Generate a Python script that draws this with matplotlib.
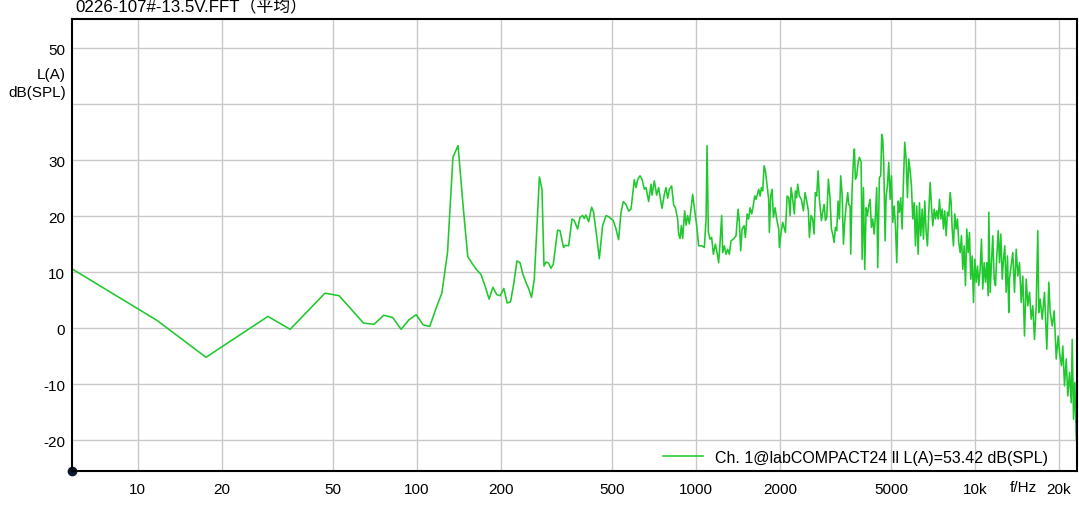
import matplotlib
matplotlib.use("Agg")
import matplotlib.pyplot as plt

plt.rcParams['font.family'] = ['Liberation Sans', 'Noto Sans CJK SC', 'DejaVu Sans']

title = "0226-107#-13.5V.FFT（平均）"
legend_label = "Ch. 1@labCOMPACT24 ll L(A)=53.42 dB(SPL)"

# frequency (Hz) and level (dB SPL, A-weighted)
freq = [
    5.86, 11.72, 17.58, 29.3, 35.2, 46.9, 52.7, 64.5, 70.3, 76.2,
    82.0, 87.9, 93.8, 99.6, 105.5, 111.3, 117.2, 123.0, 128.9, 134.8,
    140.6, 146.5, 152.3, 158.2, 164.1, 169.9, 175.8, 181.6, 187.5, 193.4,
    199.2, 205.1, 210.9, 216.8, 222.7, 228.5, 234.4, 240.2, 246.1, 252.0,
    257.8, 263.7, 269.5, 275, 281, 285.7, 290.4, 296.7, 302.6, 308.4,
    319.6, 326, 335.8, 340.6, 350, 360, 366.8, 377, 384.5, 392.9,
    398.4, 404, 412.8, 423.2, 430.2, 441, 450.9, 463.3, 476.6, 486.9,
    506.2, 517.6, 528.7, 539.3, 549.7, 562.1, 574.3, 585.7, 601.9, 610.5,
    618.6, 630.9, 641.5, 653.7, 663, 677.3, 690.8, 696.6, 709.9, 723.6,
    735.5, 756.5, 771, 781.9, 792.3, 803.5, 818.9, 832.6, 844.3, 860.5,
    867.6, 877.7, 887.1, 896.7, 911.6, 922.3, 934.5, 947.7, 961.1, 973.9,
    987.6, 1006.6, 1023.3, 1052, 1072.5, 1087.8, 1096.7, 1108.6, 1124.3, 1139.3,
    1155.4, 1174.6, 1191.1, 1207, 1221, 1237.3, 1247.5, 1265, 1283, 1299.7,
    1318, 1336.6, 1362.3, 1393, 1416.7, 1432, 1447.5, 1464.4, 1488.7, 1504.7,
    1526, 1546, 1564, 1585, 1607, 1624.5, 1643.5, 1661, 1679, 1699,
    1717, 1735.6, 1756, 1775, 1800, 1823, 1834, 1854, 1875.4, 1895.6,
    1922.4, 1948, 1980.5, 1992, 2020, 2047, 2093, 2122.7, 2150.5, 2175.5,
    2193.5, 2222.7, 2254, 2273, 2297.5, 2316.3, 2349, 2388, 2428, 2462,
    2495, 2530, 2551, 2587, 2621, 2652, 2680.6, 2709.7, 2741, 2771,
    2817, 2847.5, 2881, 2911.8, 2943.4, 2984, 3026.5, 3059, 3092, 3128,
    3162, 3196, 3233, 3268, 3303, 3342, 3378, 3414, 3454, 3500,
    3528.5, 3569.6, 3587, 3629, 3668, 3698, 3729, 3770, 3813, 3855,
    3909, 3942, 3984.5, 4027, 4074, 4118, 4162, 4210, 4255.5, 4301.5,
    4352, 4398.6, 4446, 4483, 4546, 4595, 4633, 4671.5, 4710.6, 4765,
    4804.6, 4856.5, 4909.5, 4966.6, 5020, 5074, 5133.5, 5188.9, 5245, 5306,
    5362, 5420, 5483, 5542, 5601.7, 5667, 5728, 5790, 5857.8, 5920.7,
    5984.7, 6054.6, 6120, 6186, 6258, 6325, 6393, 6468, 6537.5, 6607.7,
    6685, 6757, 6829, 6909, 6983, 7058.6, 7141, 7218, 7296, 7381,
    7460, 7540.6, 7628.6, 7710.7, 7793.5, 7884.5, 7969.5, 8054, 8148, 8215,
    8284, 8373, 8463, 8562, 8654, 8747, 8849, 8944, 9041, 9146,
    9245, 9345, 9453.5, 9555, 9658, 9771, 9876, 9982, 10099, 10208,
    10317, 10437, 10549, 10663, 10788, 10904, 11022, 11150, 11205, 11335,
    11457, 11581, 11716, 11842, 11971, 12110, 12240, 12372, 12517, 12651,
    12787, 12936, 13076, 13216, 13293, 13660, 13853, 14049, 14235, 14436,
    14640, 14834, 15044, 15257, 15460, 15678, 15899, 16111, 16338, 16570,
    16790, 16929, 17126, 17412, 17744, 18086, 18385, 18599, 18910, 19224,
    19544, 19868, 20083, 20416, 20637, 20929, 21226, 21507, 21810, 22118,
    22303, 22543, 22785, 23051, 23100,
]
level = [
    10.5, 1.4, -5.2, 2.1, -0.2, 6.25, 5.8, 0.9, 0.7, 2.3,
    1.9, -0.2, 1.5, 2.4, 0.6, 0.3, 3.5, 6.25, 13.5, 30.5,
    32.6, 22.0, 12.8, 11.5, 10.4, 9.6, 7.5, 5.2, 7.3, 6.0,
    5.8, 7.1, 4.5, 4.7, 8.0, 12.0, 11.7, 9.6, 8.2, 7.0,
    5.5, 8.75, 18.0, 27.0, 24.8, 11.1, 11.8, 11.6, 10.7, 11.4,
    17.5, 17.4, 14.4, 14.8, 14.7, 19.5, 19.2, 17.7, 19.8, 20.1,
    19.6, 20.2, 19.0, 21.6, 20.7, 16.5, 12.4, 18.3, 20.1, 19.9,
    19.2, 17.7, 15.8, 20.7, 22.6, 22.1, 20.9, 21.25, 26.5, 25.1,
    26.5, 27.2, 26.6, 24.8, 25.1, 22.6, 25.7, 23.75, 26.3, 23.75,
    25.1, 21.4, 23.9, 25.1, 23.2, 24.8, 25.4, 22.0, 21.5, 19.5,
    16.8, 16.0, 18.3, 16.0, 20.95, 18.4, 20.1, 18.6, 21.25, 23.9,
    21.5, 18.4, 14.7, 14.7, 14.4, 19.5, 32.6, 17.1, 15.9, 16.2,
    13.2, 15.0, 13.5, 11.7, 15.3, 20.1, 13.5, 14.7, 13.2, 14.1,
    13.2, 15.6, 15.9, 16.5, 21.25, 18.9, 13.8, 17.7, 18.3, 16.2,
    20.4, 19.5, 21.5, 20.4, 22.0, 23.6, 23.0, 23.9, 24.8, 23.6,
    25.1, 24.5, 29.0, 28.1, 25.4, 23.0, 17.1, 23.6, 24.8, 19.8,
    21.5, 19.5, 17.7, 14.4, 17.1, 18.9, 17.1, 23.6, 23.3, 20.1,
    25.1, 23.0, 20.4, 24.5, 23.3, 25.7, 23.6, 23.0, 20.95, 24.2,
    22.7, 20.95, 16.2, 20.1, 19.5, 16.8, 24.2, 23.6, 28.1, 23.0,
    19.2, 20.7, 22.1, 19.2, 19.8, 26.6, 23.0, 17.7, 16.8, 15.3,
    18.0, 17.4, 22.7, 19.5, 27.2, 23.9, 15.0, 18.9, 21.8, 24.2,
    22.1, 21.8, 13.2, 24.8, 29.9, 32.0, 26.6, 27.2, 29.6, 30.5,
    29.6, 12.3, 25.1, 10.5, 21.5, 20.1, 21.8, 23.0, 18.0, 19.5,
    16.8, 20.1, 25.1, 10.8, 26.9, 27.2, 34.6, 33.75, 29.6, 15.6,
    23.6, 25.4, 29.6, 23.0, 27.2, 18.9, 21.8, 18.3, 11.7, 22.7,
    20.7, 23.3, 17.7, 26.0, 33.2, 30.2, 23.3, 30.2, 28.1, 25.4,
    19.5, 22.4, 14.7, 21.8, 13.2, 22.4, 16.5, 21.25, 15.9, 22.7,
    17.1, 14.7, 20.7, 26.0, 21.8, 18.3, 21.25, 19.5, 20.95, 19.5,
    23.0, 19.5, 21.25, 17.7, 20.95, 16.5, 20.7, 20.1, 24.2, 22.4,
    17.7, 14.7, 20.4, 17.7, 19.5, 15.3, 13.5, 16.5, 10.5, 14.7,
    7.6, 17.7, 13.5, 17.1, 8.75, 12.9, 4.6, 12.3, 8.2, 11.1,
    7.6, 10.5, 15.9, 7.0, 11.7, 8.2, 11.7, 5.8, 20.7, 6.4,
    11.7, 16.5, 8.75, 7.6, 12.9, 17.4, 11.7, 16.8, 8.75, 12.3,
    14.7, 6.4, 12.9, 2.8, 8.75, 13.5, 6.4, 14.1, 9.3, 11.7,
    4.6, 9.3, -1.4, 8.75, 4.0, 6.4, 1.6, 4.0, -2.0, 4.0,
    17.4, 2.8, 5.2, 1.6, 6.4, -3.75, 8.2, 2.8, 0.4, 3.1,
    -5.5, -1.4, -4.3, -6.7, -3.2, -10.3, -5.5, -12.1, -7.9, -13.3,
    -2.0, -16.25, -9.7, -19.2, -20.0,
]

xticks = [10, 20, 50, 100, 200, 500, 1000, 2000, 5000, 10000, 20000]
xtick_labels = ["10", "20", "50", "100", "200", "500", "1000", "2000", "5000", "10k", "20k"]
yticks = [-20, -10, 0, 10, 20, 30, 40, 50]
ytick_labels = ["-20", "-10", "0", "10", "20", "30", "", "50"]

fig = plt.figure(figsize=(10.79, 5.06), dpi=100)
ax = fig.add_axes([72 / 1079, 1 - 472 / 506, 1005 / 1079, 452 / 506])

ax.plot(freq, level, color='#1fc82d', lw=1.15, label=legend_label)

ax.set_xscale('log')
ax.set_xlim(5.82, 23200)
ax.set_ylim(-25.5, 55.2)
ax.set_xticks(xticks)
ax.set_xticklabels(xtick_labels)
ax.set_yticks(yticks)
ax.set_yticklabels(ytick_labels)
ax.minorticks_off()
ax.tick_params(axis='both', length=0, labelsize=11)
ax.tick_params(axis='x', pad=8)
ax.tick_params(axis='y', pad=5)
ax.grid(True, color='#c8c8c8', lw=1.0)
ax.set_axisbelow(True)
for s in ax.spines.values():
    s.set_color('black')
    s.set_linewidth(1.5)

# marker at the axis origin
ax.plot([0], [0], 'o', color='#0d1a2e', ms=6, transform=ax.transAxes, clip_on=False)

fig.text(75 / 1079, 1 - 7 / 506, title, fontsize=12.2, ha='left', va='center')
fig.text(66 / 1079, 1 - 75 / 506, "L(A)", fontsize=11, ha='right', va='center')
fig.text(66 / 1079, 1 - 93 / 506, "dB(SPL)", fontsize=11, ha='right', va='center')
fig.text(1023 / 1079, 1 - 488 / 506, "f/Hz", fontsize=11, ha='center', va='center')

ax.legend(loc='lower right', bbox_to_anchor=(1048 / 1079, 1 - 466 / 506),
          bbox_transform=fig.transFigure, frameon=False, fontsize=11.5,
          handlelength=2.5, handletextpad=0.75, borderpad=0, borderaxespad=0)

fig.savefig("out.png", dpi=100)
